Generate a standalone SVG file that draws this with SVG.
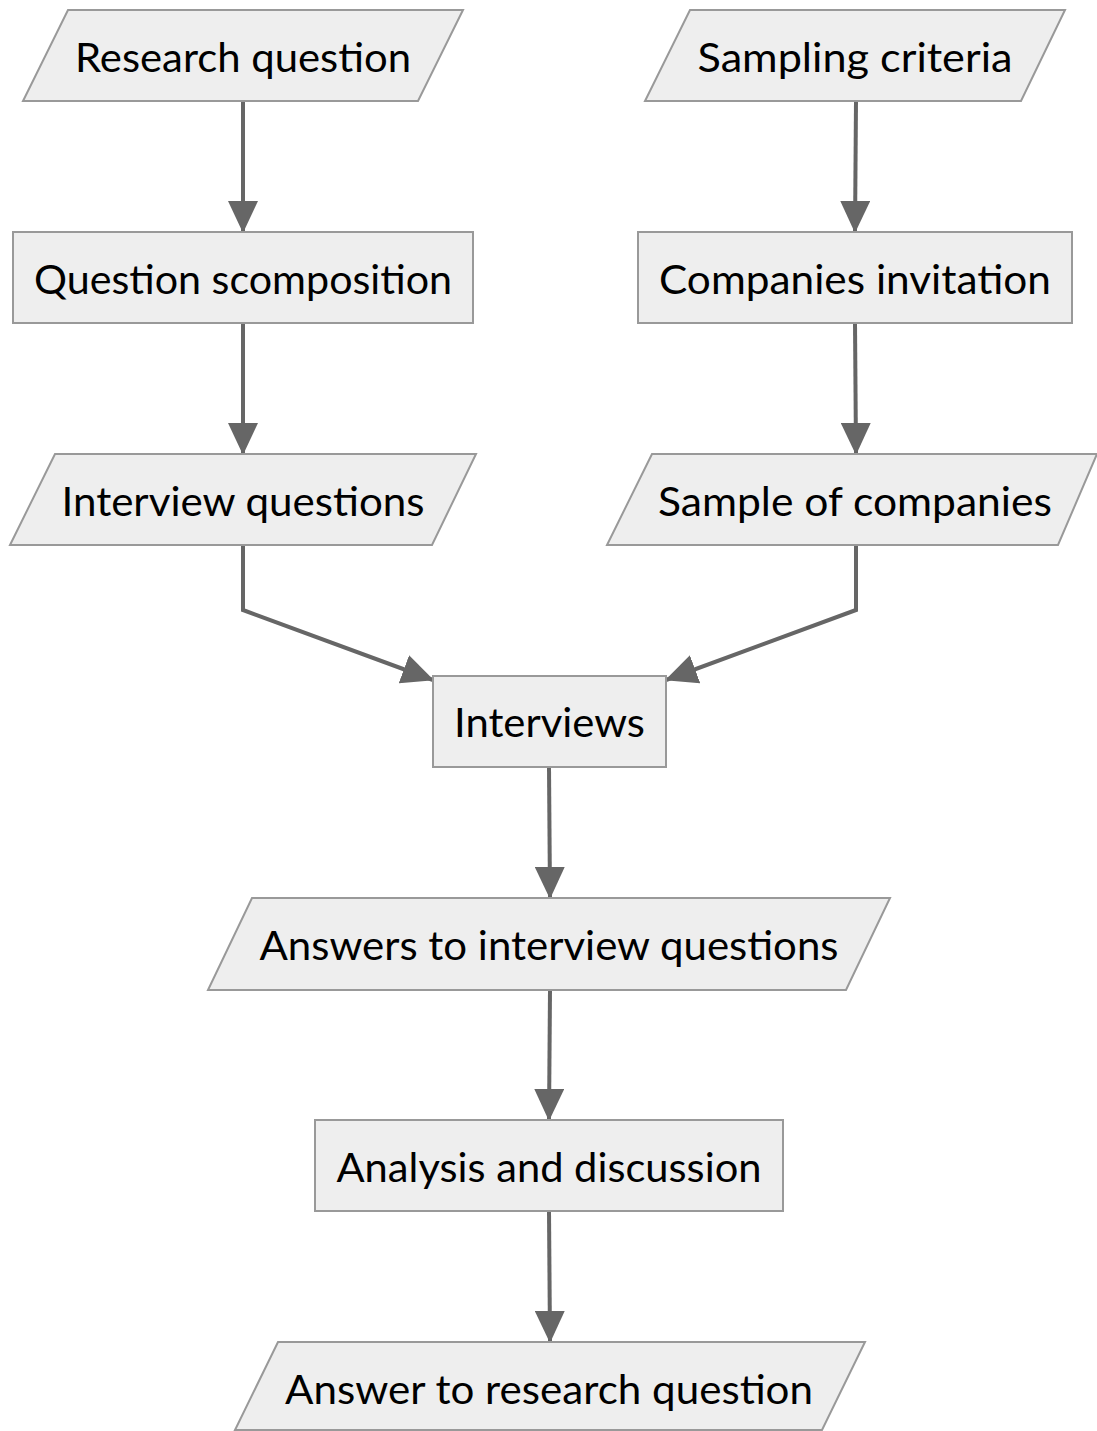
<svg xmlns="http://www.w3.org/2000/svg" width="1097" height="1431" viewBox="0 0 1097 1431">
  <style>
    .shape { fill: #eeeeee; stroke: #999999; stroke-width: 2; }
    .label { font-family: Lato, "Open Sans", "DejaVu Sans", sans-serif; font-size: 40px; fill: #000000; text-anchor: middle; }
    .edge { fill: none; stroke: #666666; stroke-width: 4; }
  </style>
  <defs>
    <marker id="head" viewBox="0 0 32 30" refX="31" refY="15" markerWidth="32" markerHeight="30" markerUnits="userSpaceOnUse" orient="auto">
      <path d="M0,0 L32,15 L0,30 z" fill="#666666"/>
    </marker>
  </defs>

  <!-- connectors -->
  <g id="edges">
    <path class="edge" d="M243,101 L243,232" marker-end="url(#head)"/>
    <path class="edge" d="M856,101 L855,232" marker-end="url(#head)"/>
    <path class="edge" d="M243,323 L243,454" marker-end="url(#head)"/>
    <path class="edge" d="M855,323 L856,454" marker-end="url(#head)"/>
    <path class="edge" d="M243,545 L243,610 L433,680" marker-end="url(#head)"/>
    <path class="edge" d="M856,545 L856,610 L666,680" marker-end="url(#head)"/>
    <path class="edge" d="M549,767 L550,898" marker-end="url(#head)"/>
    <path class="edge" d="M550,990 L549,1120" marker-end="url(#head)"/>
    <path class="edge" d="M549,1211 L550,1342" marker-end="url(#head)"/>
  </g>

  <!-- nodes -->
  <g id="research-question">
    <polygon class="shape" points="68,10 463,10 418,101 23,101"/>
    <text class="label" x="243" y="72" textLength="336" lengthAdjust="spacingAndGlyphs">Research question</text>
  </g>
  <g id="sampling-criteria">
    <polygon class="shape" points="690,10 1065,10 1021,101 645,101"/>
    <text class="label" x="855" y="72" textLength="315" lengthAdjust="spacingAndGlyphs">Sampling criteria</text>
  </g>
  <g id="question-scomposition">
    <rect class="shape" x="13" y="232" width="460" height="91"/>
    <text class="label" x="243" y="294" textLength="418" lengthAdjust="spacingAndGlyphs">Question scomposition</text>
  </g>
  <g id="companies-invitation">
    <rect class="shape" x="638" y="232" width="434" height="91"/>
    <text class="label" x="855" y="294" textLength="392" lengthAdjust="spacingAndGlyphs">Companies invitation</text>
  </g>
  <g id="interview-questions">
    <polygon class="shape" points="55,454 476,454 432,545 10,545"/>
    <text class="label" x="243" y="516" textLength="363" lengthAdjust="spacingAndGlyphs">Interview questions</text>
  </g>
  <g id="sample-of-companies">
    <polygon class="shape" points="652,454 1097,454 1058,545 607,545"/>
    <text class="label" x="855" y="516" textLength="394" lengthAdjust="spacingAndGlyphs">Sample of companies</text>
  </g>
  <g id="interviews">
    <rect class="shape" x="433" y="676" width="233" height="91"/>
    <text class="label" x="549.5" y="737" textLength="191" lengthAdjust="spacingAndGlyphs">Interviews</text>
  </g>
  <g id="answers-to-interview-questions">
    <polygon class="shape" points="252,898 890,898 846,990 208,990"/>
    <text class="label" x="549" y="960" textLength="579" lengthAdjust="spacingAndGlyphs">Answers to interview questions</text>
  </g>
  <g id="analysis-and-discussion">
    <rect class="shape" x="315" y="1120" width="468" height="91"/>
    <text class="label" x="549" y="1182" textLength="425" lengthAdjust="spacingAndGlyphs">Analysis and discussion</text>
  </g>
  <g id="answer-to-research-question">
    <polygon class="shape" points="278,1342 865,1342 822,1430 235,1430"/>
    <text class="label" x="549" y="1404" textLength="528" lengthAdjust="spacingAndGlyphs">Answer to research question</text>
  </g>
</svg>
